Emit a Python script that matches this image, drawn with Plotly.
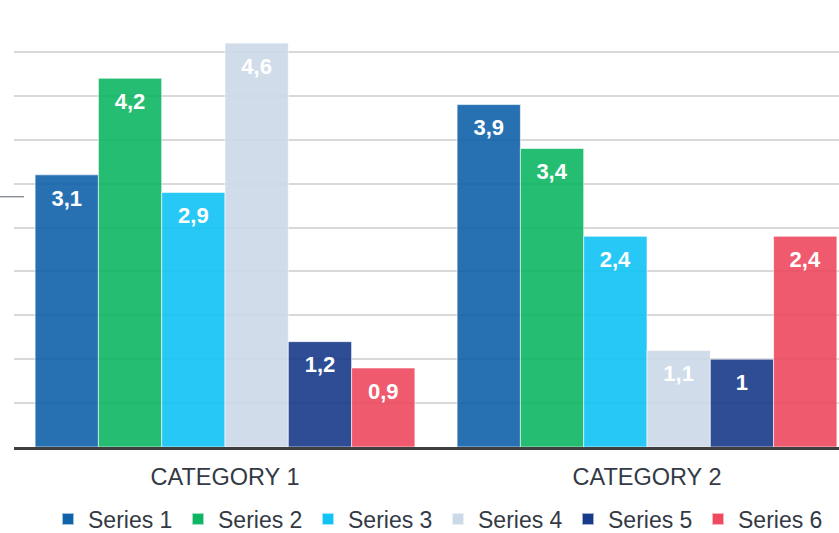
import plotly.graph_objects as go

categories = ["CATEGORY 1", "CATEGORY 2"]
series_names = ["Series 1", "Series 2", "Series 3", "Series 4", "Series 5", "Series 6"]
series_1 = [3.1, 3.9]
series_2 = [4.2, 3.4]
series_3 = [2.9, 2.4]
series_4 = [4.6, 1.1]
series_5 = [1.2, 1.0]
series_6 = [0.9, 2.4]
series_values = [series_1, series_2, series_3, series_4, series_5, series_6]
colors = ["#1062AA", "#0EB663", "#10C3F4", "#CCD9E8", "#183A8A", "#EE495F"]

FONT = "Liberation Sans, Arial"
fig = go.Figure()
for name, vals, col in zip(series_names, series_values, colors):
    fig.add_trace(go.Bar(
        x=[0, 1], y=vals, name=name,
        marker=dict(color=col, opacity=0.9, line=dict(color="rgba(255,255,255,0.6)", width=1)),
        texttemplate="&nbsp;<br>&nbsp;<br><span style='font-size:22px'>%{y}</span>",
        textposition="inside", insidetextanchor="end",
        textangle=0, constraintext="none",
        textfont=dict(family=FONT, size=8, color="white", weight="bold"),
        hoverinfo="skip",
    ))

W, H = 839, 533
ml, mr, mt, mb = 14, 0, 8, 86
plot_w = W - ml - mr
plot_h = H - mt - mb
band = 422.0
x_max = -0.5 + plot_w / band

fig.update_layout(
    width=W, height=H,
    margin=dict(l=ml, r=mr, t=mt, b=mb, autoexpand=False),
    barmode="group", bargap=0.1, bargroupgap=0,
    separators=",.",
    plot_bgcolor="white", paper_bgcolor="white",
    font=dict(family=FONT, color="#333a45"),
    showlegend=True,
    legend=dict(orientation="h", x=34 / plot_w, xanchor="left", y=-(72 / plot_h), yanchor="middle",
                font=dict(size=23, color="#333a45"), entrywidth=85, entrywidthmode="pixels",
                itemsizing="constant", tracegroupgap=0),
    xaxis=dict(
        tickmode="array", tickvals=[0, 1], ticktext=categories,
        range=[-0.5, x_max], showgrid=False, zeroline=False,
        showline=True, linecolor="#3f3f3f", linewidth=3,
        tickfont=dict(size=23.5, color="#333a45"), ticks="", ticklabelstandoff=7,
    ),
    yaxis=dict(
        range=[0, 5], dtick=0.5, showgrid=True, gridcolor="#d9d9d9", gridwidth=2,
        showticklabels=False, zeroline=False, showline=False, ticks="",
    ),
    shapes=[dict(type="line", xref="paper", yref="y",
                 x0=-ml / plot_w, x1=10 / plot_w, y0=2.85, y1=2.85,
                 line=dict(color="#5a6470", width=1))],
)

fig.write_html("out.html", config={"displayModeBar": False},
               post_script="document.body.style.margin='0';document.body.style.overflow='hidden';")
